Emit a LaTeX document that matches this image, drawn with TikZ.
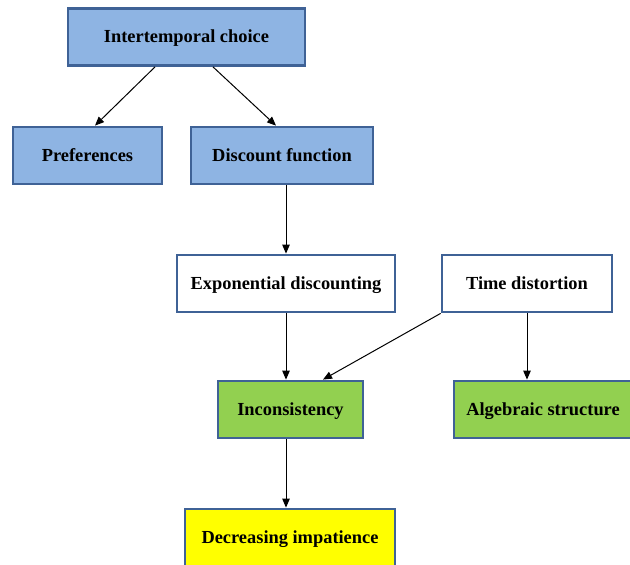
\documentclass[tikz,border=0pt]{standalone}
\usepackage{fontspec}
\setmainfont{Liberation Serif}
\usepackage{tikz}
\usetikzlibrary{arrows.meta}
\usetikzlibrary{calc}

\definecolor{boxblue}{HTML}{8EB4E3}
\definecolor{edgeblue}{HTML}{3F6296}
\definecolor{boxgreen}{HTML}{92D050}
\definecolor{boxyellow}{HTML}{FFFF00}

\begin{document}
\begin{tikzpicture}[
    x=1pt, y=-1pt,
    box/.style={draw=edgeblue, line width=2.8pt, minimum height=57pt,
        inner sep=0pt, text depth=1pt, font=\fontsize{18.4}{20}\selectfont\bfseries},
    blue box/.style={box, fill=boxblue},
    white box/.style={box, fill=white},
    green box/.style={box, fill=boxgreen},
    yellow box/.style={box, fill=boxyellow},
    link/.style={-{Triangle[length=9pt,width=7.5pt]}, line width=1pt, black}
    ]

    \useasboundingbox (0,0) rectangle (630,565);

    % top level
    \node[blue box, minimum width=237pt] (choice) at (186.5,37) {Intertemporal choice};
    \node[blue box, minimum width=149pt] (pref) at (87.5,155.5) {Preferences};
    \node[blue box, minimum width=182pt] (disc) at (282,155.5) {Discount function};
    % middle
    \node[white box, minimum width=218pt] (expo) at (286,283.5) {Exponential discounting};
    \node[white box, minimum width=170pt] (dist) at (527,283.5) {Time distortion};
    % results
    \node[green box, minimum width=145pt] (incons) at (290.5,409.5) {Inconsistency};
    \node[green box, minimum width=178pt] (alg) at (543,409.5) {Algebraic structure};
    \node[yellow box, minimum width=210pt] (decr) at (290,537.5) {Decreasing impatience};

    % arrows
    \draw[link] ([xshift=-31.5pt]choice.south) -- ([xshift=7.5pt]pref.north);
    \draw[link] ([xshift=26.5pt]choice.south) -- ([xshift=-6pt]disc.north);
    \draw[link] ([xshift=4pt]disc.south) -- (expo.north);
    \draw[link] (expo.south) -- (expo.south |- incons.north);
    \draw[link] (dist.south west) -- ([xshift=32.5pt]incons.north);
    \draw[link] (dist.south) -- (dist.south |- alg.north);
    \draw[link] (expo.south |- incons.south) -- (expo.south |- decr.north);

\end{tikzpicture}
\end{document}
